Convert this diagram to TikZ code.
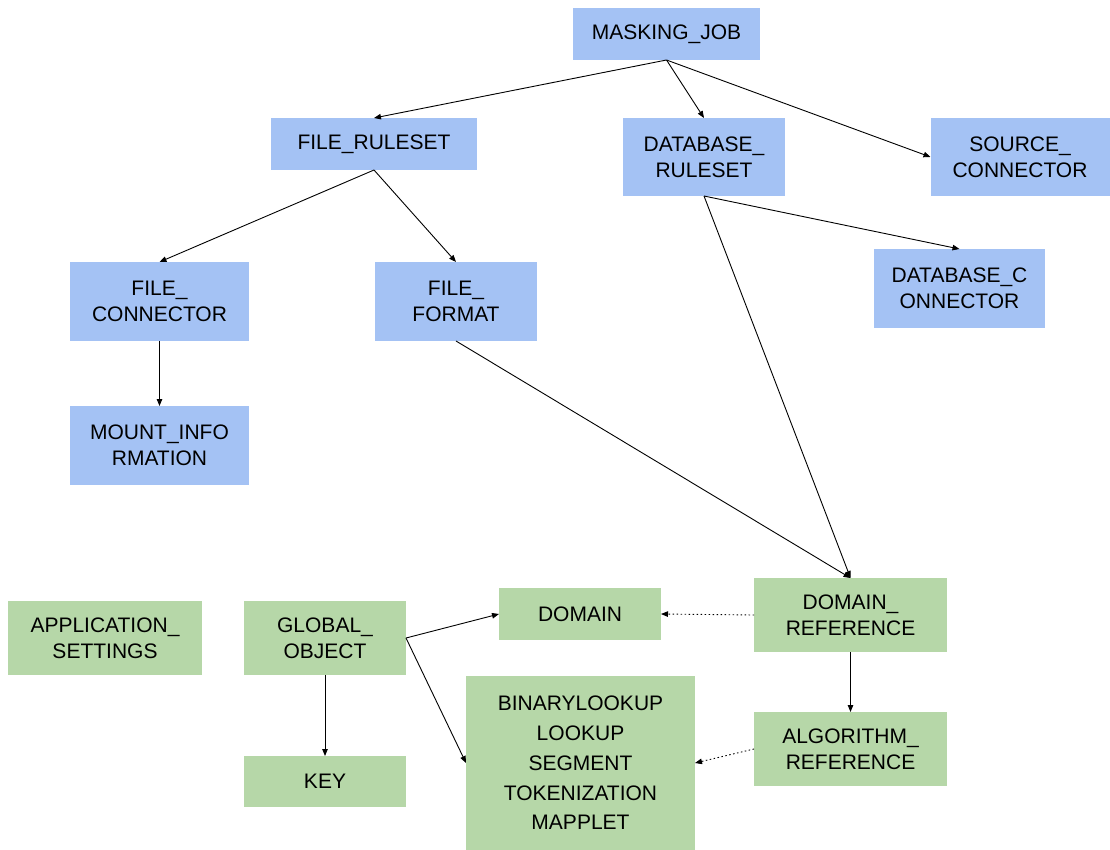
\documentclass[tikz,border=0pt]{standalone}
\usepackage{fontspec}
\setmainfont{Liberation Sans}
\usetikzlibrary{arrows.meta}
\definecolor{nblue}{HTML}{A4C2F4}
\definecolor{ngreen}{HTML}{B6D7A8}
\begin{document}
\begin{tikzpicture}[x=1pt,y=-1pt,
  box/.style={inner sep=0pt,outer sep=0pt,align=center,font=\fontsize{21}{26}\selectfont},
  bbox/.style={box,fill=nblue},
  gbox/.style={box,fill=ngreen},
  conn/.style={-{Triangle[length=7pt,width=5.5pt]},line width=0.9pt},
  dconn/.style={conn,dash pattern=on 1.5pt off 2.5pt}]
\useasboundingbox (0,0) rectangle (1110,850);
\node[bbox,minimum width=187pt,minimum height=52pt] (mj) at (666.5,34) {MASKING\_JOB};
\node[bbox,minimum width=206pt,minimum height=52pt] (fr) at (374,144) {FILE\_RULESET};
\node[bbox,minimum width=162pt,minimum height=78pt] (dr) at (704,157) {DATABASE\_\\RULESET};
\node[bbox,minimum width=179pt,minimum height=78pt] (sc) at (1020,157) {SOURCE\_\\CONNECTOR};
\node[bbox,minimum width=179pt,minimum height=79pt] (fc) at (159.5,301.5) {FILE\_\\CONNECTOR};
\node[bbox,minimum width=162pt,minimum height=79pt] (ff) at (456,301.5) {FILE\_\\FORMAT};
\node[bbox,minimum width=171pt,minimum height=79pt] (dc) at (959.5,288.5) {DATABASE\_C\\ONNECTOR};
\node[bbox,minimum width=179pt,minimum height=79pt] (mi) at (159.5,445.5) {MOUNT\_INFO\\RMATION};
\node[gbox,minimum width=193pt,minimum height=74pt] (dref) at (850.5,615) {DOMAIN\_\\REFERENCE};
\node[gbox,minimum width=194pt,minimum height=74pt] (as) at (105,638) {APPLICATION\_\\SETTINGS};
\node[gbox,minimum width=162pt,minimum height=74pt] (go) at (325,638) {GLOBAL\_\\OBJECT};
\node[gbox,minimum width=162pt,minimum height=52pt] (dom) at (580,614) {DOMAIN};
\node[gbox,minimum width=229pt,minimum height=174pt,font=\fontsize{21}{29.7}\selectfont] (big) at (580.5,763) {BINARYLOOKUP\\LOOKUP\\SEGMENT\\TOKENIZATION\\MAPPLET};
\node[gbox,minimum width=193pt,minimum height=74pt] (ar) at (850.5,749) {ALGORITHM\_\\REFERENCE};
\node[gbox,minimum width=162pt,minimum height=51pt] (key) at (325,781.5) {KEY};
\draw[conn] (mj.south) -- (fr.north);
\draw[conn] (mj.south) -- (dr.north);
\draw[conn] (mj.south) -- (sc.west);
\draw[conn] (fr.south) -- (fc.north);
\draw[conn] (fr.south) -- (ff.north);
\draw[conn] (fc.south) -- (mi.north);
\draw[conn] (dr.south) -- (dc.north);
\draw[conn] (dr.south) -- (dref.north);
\draw[conn] (ff.south) -- (dref.north);
\draw[dconn] (dref.west) -- (dom.east);
\draw[conn] (dref.south) -- (ar.north);
\draw[dconn] (ar.west) -- (big.east);
\draw[conn] (go.east) -- (dom.west);
\draw[conn] (go.east) -- (big.west);
\draw[conn] (go.south) -- (key.north);
\end{tikzpicture}
\end{document}
